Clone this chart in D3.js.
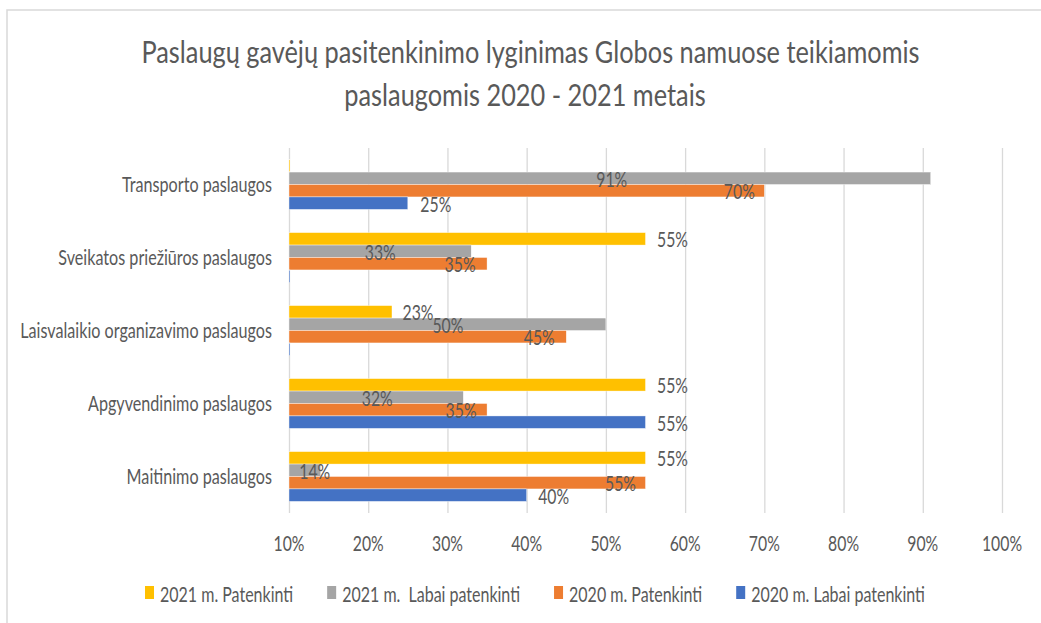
<!DOCTYPE html>
<html>
<head>
<meta charset="utf-8">
<script src="https://cdn.jsdelivr.net/npm/d3@7"></script>
<style>
  html, body { margin: 0; padding: 0; background: #fff; }
  text { font-family: Lato, "Open Sans", sans-serif; fill: #595959; }
</style>
</head>
<body>
<div id="chart"></div>
<script>
const categories = [
  'Transporto paslaugos',
  'Sveikatos priežiūros paslaugos',
  'Laisvalaikio organizavimo paslaugos',
  'Apgyvendinimo paslaugos',
  'Maitinimo paslaugos'
];
const seriesNames = ['2021 m. Patenkinti', '2021 m.  Labai patenkinti', '2020 m. Patenkinti', '2020 m. Labai patenkinti'];
const patenkinti2021 = [0, 55, 23, 55, 55];
const labaiPatenkinti2021 = [91, 33, 50, 32, 14];
const patenkinti2020 = [70, 35, 45, 35, 55];
const labaiPatenkinti2020 = [25, 0, 0, 55, 40];
const tickValues = [10, 20, 30, 40, 50, 60, 70, 80, 90, 100];
const titleLines = ['Paslaugų gavėjų pasitenkinimo lyginimas Globos namuose teikiamomis', 'paslaugomis 2020 - 2021 metais'];

// where each data label sits, px from the bar end (null = label was removed)
const labelDx = [
  [null, 27, 26, 27, 27],
  [-319, -91, -158, -86, -6],
  [-25, -27, -27, -26, -25],
  [28, null, null, 27, 27]
];

const colors = ['#FFC000', '#A5A5A5', '#ED7D31', '#4472C4'];
const seriesValues = [patenkinti2021, labaiPatenkinti2021, patenkinti2020, labaiPatenkinti2020];

const width = 1041, height = 623;
const margin = { left: 289, right: 39, top: 148, bottom: 110 };

const svg = d3.select('#chart').append('svg')
  .attr('width', width)
  .attr('height', height);

svg.append('rect').attr('width', width).attr('height', height).attr('fill', '#fff');

// chart frame (only the top and left edges are in the crop)
svg.append('path')
  .attr('d', `M7,${height} L7,10 L${width},10`)
  .attr('fill', 'none')
  .attr('stroke', '#d9d9d9')
  .attr('stroke-width', 1.5);

// squeeze the font sideways so it runs as narrow as the original
const probe = svg.append('text').style('font-size', '21px').text(categories[2]);
const SX = 252 / probe.node().getComputedTextLength();
probe.remove();

function putText(parent, x, y, str, size, anchor, sx) {
  return parent.append('text')
    .attr('transform', `translate(${x},${y}) scale(${sx || SX},1)`)
    .attr('text-anchor', anchor)
    .style('font-size', size + 'px')
    .style('white-space', 'pre')
    .text(str);
}

// title
putText(svg, 530.5, 63, titleLines[0], 31.5, 'middle', SX * 1.045);
putText(svg, 525, 106, titleLines[1], 31.5, 'middle', SX * 1.045);

const x = d3.scaleLinear()
  .domain([10, 100])
  .range([margin.left, width - margin.right]);

const y = d3.scaleBand()
  .domain(categories)
  .range([margin.top, height - margin.bottom])
  .paddingInner(0.318)
  .paddingOuter(0.159);

const ySeries = d3.scaleBand()
  .domain(d3.range(seriesNames.length))
  .range([0, y.bandwidth()]);

// gridlines
const grid = svg.append('g')
  .attr('transform', `translate(0,${margin.top})`)
  .call(d3.axisBottom(x).tickValues(tickValues).tickSize(height - margin.bottom - margin.top).tickFormat(''));
grid.select('.domain').remove();
grid.selectAll('.tick line').attr('stroke', '#d9d9d9').attr('stroke-width', 1.3);

// x tick labels
const xAxis = svg.append('g');
tickValues.forEach(v => putText(xAxis, x(v), 551, v + '%', 20.5, 'middle'));

// category labels
const yAxis = svg.append('g');
categories.forEach(c => putText(yAxis, 272, y(c) + y.bandwidth() / 2 + 7, c, 21, 'end'));

// bars
const bars = svg.append('g');
seriesValues.forEach((vals, s) => {
  bars.selectAll('.bar-' + s)
    .data(vals.map((v, i) => ({ v, cat: categories[i] })))
    .enter()
    .append('rect')
    .attr('class', 'bar-' + s)
    .attr('x', x(10))
    .attr('y', d => y(d.cat) + ySeries(s))
    .attr('width', d => Math.max(1, x(Math.max(10, d.v)) - x(10)))
    .attr('height', ySeries.bandwidth())
    .attr('fill', colors[s])
    .attr('stroke', '#fff')
    .attr('stroke-width', 0.4);
});

// data labels
const labels = svg.append('g');
seriesValues.forEach((vals, s) => {
  vals.forEach((v, i) => {
    const dx = labelDx[s][i];
    if (dx === null) return;
    const cy = y(categories[i]) + ySeries(s) + ySeries.bandwidth() / 2;
    putText(labels, x(v) + dx, cy + 8.5, v + '%', 20.5, 'middle');
  });
});

// legend, laid out from the text widths and centred under the plot
const legend = svg.append('g');
const items = seriesNames.map((name, s) => {
  const t = putText(legend, 0, 602, name, 20.8, 'start');
  return { t, w: t.node().getComputedTextLength() * SX, s };
});
const markerW = 9, textGap = 6, itemGap = 34;
const total = d3.sum(items, d => markerW + textGap + d.w) + itemGap * (items.length - 1);
let cursor = 535 - total / 2;
items.forEach(d => {
  legend.append('rect')
    .attr('x', cursor).attr('y', 586)
    .attr('width', markerW).attr('height', 13)
    .attr('fill', colors[d.s]);
  d.t.attr('transform', `translate(${cursor + markerW + textGap},602) scale(${SX},1)`);
  cursor += markerW + textGap + d.w + itemGap;
});
</script>
</body>
</html>
